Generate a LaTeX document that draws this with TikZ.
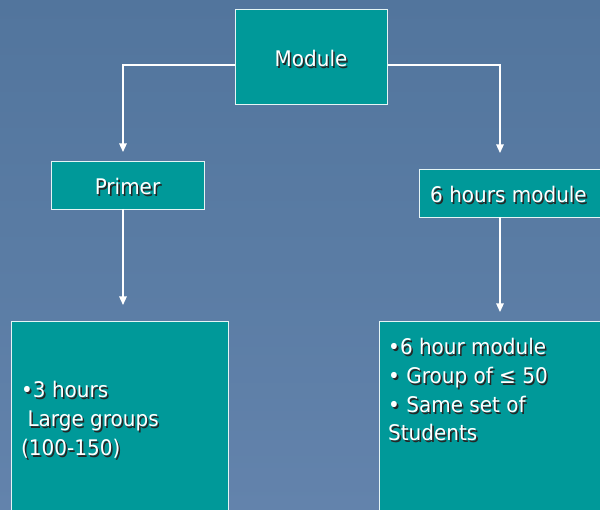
\documentclass[tikz,border=0pt]{standalone}
\usepackage{fontspec}
\setmainfont{DejaVu Sans}[FakeStretch=0.93]
\usetikzlibrary{arrows.meta}
\definecolor{slate}{HTML}{5A7CA4}
\definecolor{slatetop}{HTML}{52759D}
\definecolor{slatelow}{HTML}{6383AC}
\definecolor{boxteal}{HTML}{009999}
% white text with a small dark drop shadow
\newcommand\shd[1]{\leavevmode\rlap{\hspace{1.6pt}\raisebox{-1.6pt}{\color{black!85}#1}}{\color{white}#1}}
\tikzset{
  tealbox/.style={draw=white!90!boxteal, line width=0.8pt, fill=boxteal,
    rectangle, inner sep=0pt, anchor=north west},
  label/.style={font=\fontsize{21.5}{29}\selectfont, inner sep=0pt},
  bulletline/.style={label, anchor=base west},
  conn/.style={draw=white, line width=1.2pt,
    -{Triangle[width=7.5pt,length=8.5pt]}},
}
\begin{document}
\begin{tikzpicture}[x=1pt,y=-1pt]
  % backdrop
  \shade[top color=slatetop, bottom color=slatelow, middle color=slate]
    (0,0) rectangle (600,510);
  \useasboundingbox (0,0) rectangle (600,510);

  % boxes
  \node[tealbox, minimum width=152pt, minimum height=95pt] (mod) at (235,9) {};
  \node[tealbox, minimum width=153pt, minimum height=48pt] (prim) at (51,161) {};
  \node[tealbox, minimum width=200pt, minimum height=48pt] (six) at (419,169) {};
  \node[tealbox, minimum width=217pt, minimum height=210pt] (big) at (11,321) {};
  \node[tealbox, minimum width=240pt, minimum height=210pt] (grp) at (379,321) {};

  % box titles
  \node[label, anchor=base] (modtxt) at (311,67) {\shd{Module}};
  \node[label, anchor=base] (primtxt) at (127.5,195) {\shd{Primer}};
  \node[label, anchor=base west] (sixtxt) at (430,203) {\shd{6 hours module}};

  % contents of the lower boxes
  \node[bulletline] (a1) at (21,398) {\shd{•3 hours}};
  \node[bulletline] (a2) at (21,427) {\shd{\ Large groups}};
  \node[bulletline] (a3) at (21,456) {\shd{(100-150)}};
  \node[bulletline] (b1) at (388,355) {\shd{•6 hour module}};
  \node[bulletline] (b2) at (388,384) {\shd{• Group of ≤ 50}};
  \node[bulletline] (b3) at (388,413) {\shd{• Same set of}};
  \node[bulletline] (b4) at (388,441) {\shd{Students}};

  % connector anchors
  \coordinate (modL) at (mod.west |- 0,65);
  \coordinate (modR) at (mod.east |- 0,65);
  \coordinate (primIn) at (123,152);
  \coordinate (sixIn) at (500,153);
  \coordinate (primOut) at (123,209);
  \coordinate (bigIn) at (123,305);
  \coordinate (sixOut) at (500,217);
  \coordinate (grpIn) at (500,312);

  % connectors
  \draw[conn] (modL) -| (primIn);
  \draw[conn] (modR) -| (sixIn);
  \draw[conn] (primOut) -- (bigIn);
  \draw[conn] (sixOut) -- (grpIn);
\end{tikzpicture}
\end{document}
